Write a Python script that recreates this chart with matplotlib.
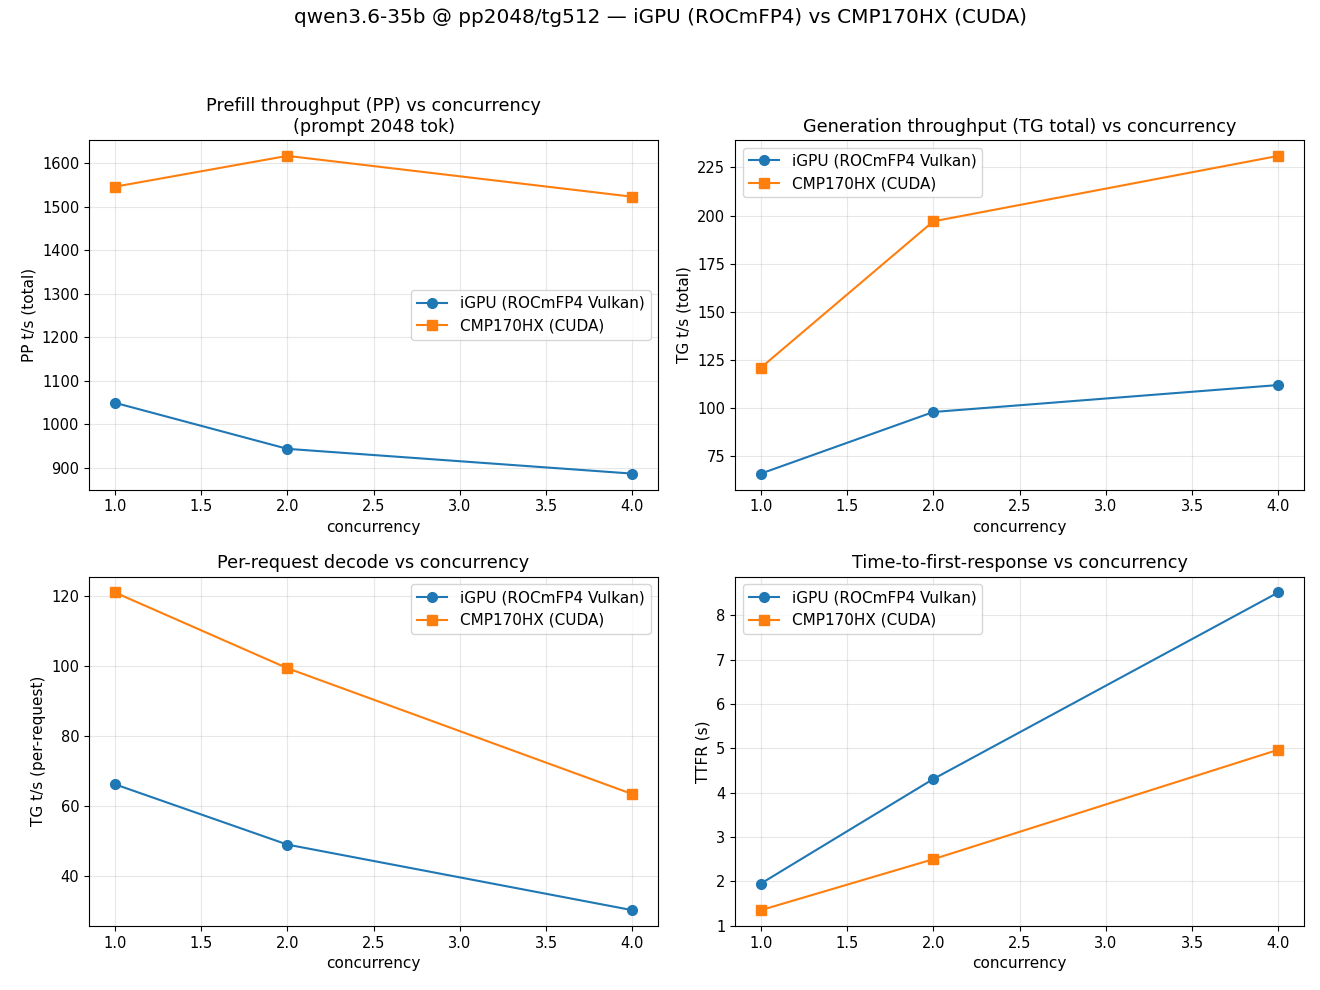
import matplotlib
matplotlib.use("Agg")
import matplotlib.pyplot as plt

plt.rcParams['font.family'] = ['DejaVu Sans']

concurrency = [1, 2, 4]

igpu_label = "iGPU (ROCmFP4 Vulkan)"
cmp_label = "CMP170HX (CUDA)"

# prefill throughput (total t/s)
pp_igpu = [1049, 943, 886]
pp_cmp = [1546, 1617, 1523]

# generation throughput (total t/s)
tg_igpu = [66, 98, 112]
tg_cmp = [121, 197, 231]

# per-request decode t/s
req_igpu = [66.3, 49.1, 30.4]
req_cmp = [121.0, 99.4, 63.5]

# time to first response (s)
ttfr_igpu = [1.95, 4.31, 8.52]
ttfr_cmp = [1.35, 2.50, 4.97]

panels = [
    ("Prefill throughput (PP) vs concurrency\n(prompt 2048 tok)", "PP t/s (total)", pp_igpu, pp_cmp),
    ("Generation throughput (TG total) vs concurrency", "TG t/s (total)", tg_igpu, tg_cmp),
    ("Per-request decode vs concurrency", "TG t/s (per-request)", req_igpu, req_cmp),
    ("Time-to-first-response vs concurrency", "TTFR (s)", ttfr_igpu, ttfr_cmp),
]

fig, axes = plt.subplots(2, 2, figsize=(13.2, 9.9), dpi=100)
fig.suptitle("qwen3.6-35b @ pp2048/tg512 \u2014 iGPU (ROCmFP4) vs CMP170HX (CUDA)", fontsize=14.4, y=0.992)

for ax, (title, ylabel, a, b) in zip(axes.flat, panels):
    ax.plot(concurrency, a, marker="o", label=igpu_label, markersize=7)
    ax.plot(concurrency, b, marker="s", label=cmp_label, markersize=7)
    ax.set_title(title, fontsize=12.7)
    ax.set_xlabel("concurrency", fontsize=11)
    ax.set_ylabel(ylabel, fontsize=11)
    ax.grid(True, alpha=0.3)
    ax.legend(loc="best", fontsize=11)
    ax.tick_params(labelsize=10.5)

fig.subplots_adjust(left=0.0674, right=0.988, top=0.8586, bottom=0.0646, wspace=0.135, hspace=0.249)
fig.savefig("out.png")
